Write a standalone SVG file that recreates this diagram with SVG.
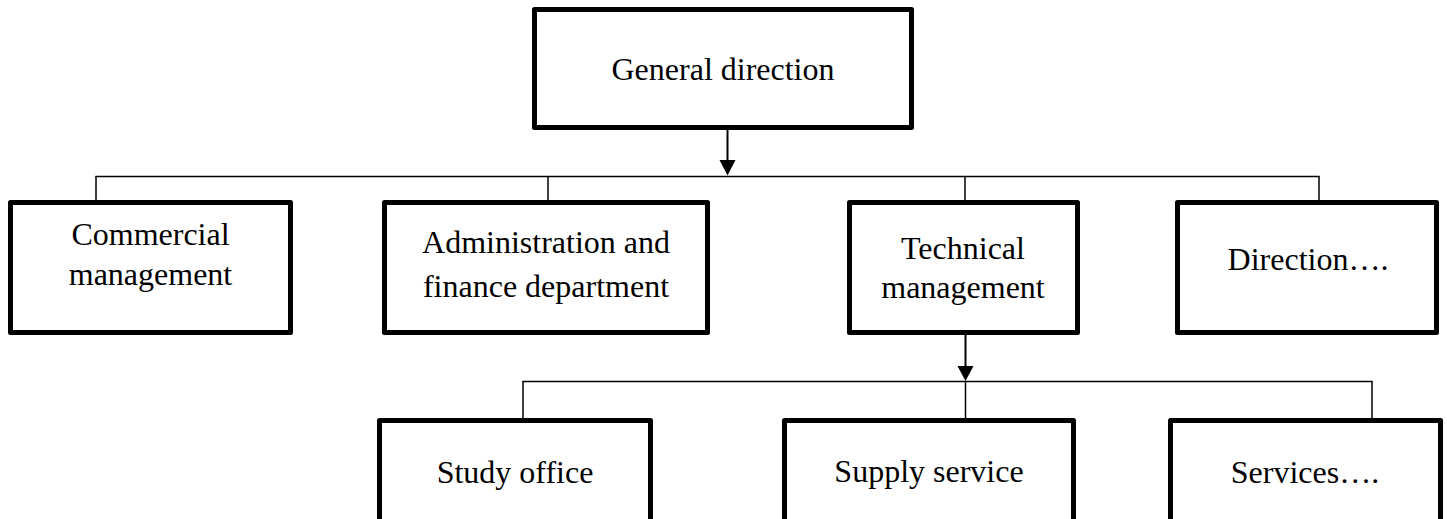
<svg xmlns="http://www.w3.org/2000/svg" width="1447" height="519" viewBox="0 0 1447 519">
  <style>
    .box { fill: #ffffff; stroke: #000000; stroke-width: 5; stroke-linejoin: round; }
    .wire { fill: none; stroke: #000000; stroke-width: 1.5; }
    .stem { fill: none; stroke: #000000; stroke-width: 2; }
    .tip { fill: #000000; }
    .lbl { font-family: "Liberation Serif", "Times New Roman", serif; font-size: 32px; fill: #000000; text-anchor: middle; }
  </style>
  <rect width="1447" height="519" fill="#ffffff"/>

  <g id="connectors">
    <!-- top level to second level -->
    <line class="stem" x1="727.5" y1="130" x2="727.5" y2="160"/>
    <path class="tip" d="M719.5,160 L735.5,160 L727.5,175.5 Z"/>
    <line class="wire" x1="95.5" y1="176.5" x2="1319.5" y2="176.5"/>
    <line class="wire" x1="96" y1="176" x2="96" y2="201"/>
    <line class="wire" x1="548" y1="176" x2="548" y2="201"/>
    <line class="wire" x1="965" y1="176" x2="965" y2="201"/>
    <line class="wire" x1="1319" y1="176" x2="1319" y2="201"/>
    <!-- technical management to its services -->
    <line class="stem" x1="965.5" y1="335" x2="965.5" y2="366"/>
    <path class="tip" d="M957.5,366 L973.5,366 L965.5,381 Z"/>
    <line class="wire" x1="522.5" y1="381.5" x2="1372.5" y2="381.5"/>
    <line class="wire" x1="523" y1="381" x2="523" y2="419"/>
    <line class="wire" x1="965.5" y1="381" x2="965.5" y2="419"/>
    <line class="wire" x1="1372" y1="381" x2="1372" y2="419"/>
  </g>

  <g id="general-direction">
    <rect class="box" x="534.5" y="9.5" width="377" height="118"/>
    <text class="lbl" x="723" y="80">General direction</text>
  </g>

  <g id="commercial-management">
    <rect class="box" x="10.5" y="202.5" width="280" height="130"/>
    <text class="lbl" x="150.5" y="245">Commercial</text>
    <text class="lbl" x="150.5" y="285">management</text>
  </g>

  <g id="administration-finance">
    <rect class="box" x="384.5" y="202.5" width="323" height="130"/>
    <text class="lbl" x="546" y="253">Administration and</text>
    <text class="lbl" x="546" y="297">finance department</text>
  </g>

  <g id="technical-management">
    <rect class="box" x="849.5" y="202.5" width="228" height="130"/>
    <text class="lbl" x="963" y="259">Technical</text>
    <text class="lbl" x="963" y="298">management</text>
  </g>

  <g id="direction-other">
    <rect class="box" x="1177.5" y="202.5" width="259" height="130"/>
    <text class="lbl" x="1308" y="270">Direction….</text>
  </g>

  <g id="study-office">
    <rect class="box" x="379.5" y="420.5" width="271" height="120"/>
    <text class="lbl" x="515" y="483">Study office</text>
  </g>

  <g id="supply-service">
    <rect class="box" x="784.5" y="420.5" width="289" height="120"/>
    <text class="lbl" x="929" y="482">Supply service</text>
  </g>

  <g id="services-other">
    <rect class="box" x="1170.5" y="420.5" width="270" height="120"/>
    <text class="lbl" x="1305" y="483">Services….</text>
  </g>
</svg>
